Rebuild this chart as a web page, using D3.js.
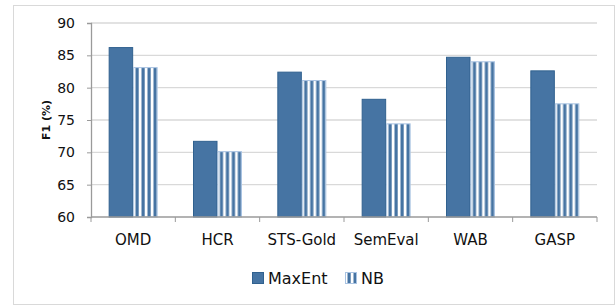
<!DOCTYPE html>
<html lang="en">
<head>
    <meta charset="UTF-8">
    <title>F1 by dataset</title>
    <style>
        body, html {
            margin: 0;
            background-color: #fff;
            font-family: "DejaVu Sans", sans-serif;
        }
    </style>
    <script src="https://d3js.org/d3.v7.min.js"></script>
</head>
<body>
    <div id="chart"></div>
    <script>
        const datasets = ["OMD", "HCR", "STS-Gold", "SemEval", "WAB", "GASP"];
        const seriesNames = ["MaxEnt", "NB"];
        const maxEnt = [86.2, 71.7, 82.4, 78.2, 84.7, 82.6];
        const nb = [83.1, 70.1, 81.1, 74.4, 84.0, 77.5];
        const yTicks = [60, 65, 70, 75, 80, 85, 90];

        const width = 616, height = 307;
        const plot = { left: 91, right: 597, top: 23, bottom: 217 };

        const svg = d3.select("#chart").append("svg")
            .attr("width", width)
            .attr("height", height);

        // stripes for NB
        const defs = svg.append("defs");
        const pat = defs.append("pattern")
            .attr("id", "stripes")
            .attr("patternUnits", "userSpaceOnUse")
            .attr("width", 6)
            .attr("height", 10);
        pat.append("rect").attr("width", 6).attr("height", 10).attr("fill", "#fff");
        pat.append("rect").attr("x", 2.5).attr("width", 3.2).attr("height", 10).attr("fill", "#4674a3");

        // outer frame
        svg.append("rect")
            .attr("x", 13.5).attr("y", 5.5)
            .attr("width", 601).attr("height", 299)
            .attr("fill", "#fff")
            .attr("stroke", "#d9d9d9");

        const x = d3.scaleBand().domain(datasets).range([plot.left, plot.right]);
        const x1 = d3.scaleBand().domain(seriesNames).range([x.bandwidth() / 2 - 24.5, x.bandwidth() / 2 + 24.5]);
        const y = d3.scaleLinear().domain([60, 90]).range([plot.bottom, plot.top]);

        // gridlines
        svg.append("g")
            .selectAll("line")
            .data(yTicks.slice(1))
            .enter().append("line")
            .attr("x1", plot.left).attr("x2", plot.right)
            .attr("y1", d => y(d)).attr("y2", d => y(d))
            .attr("stroke", "#d9d9d9")
            .attr("stroke-width", 1.3);

        // y axis
        const yAxis = svg.append("g")
            .attr("transform", `translate(${plot.left},0)`)
            .call(d3.axisLeft(y).tickValues(yTicks).tickSize(4).tickPadding(12));
        yAxis.select(".domain").attr("stroke", "#9a9a9a").attr("stroke-width", 1.3);
        yAxis.selectAll(".tick line").attr("stroke", "#9a9a9a");
        yAxis.selectAll("text").attr("font-size", 14).attr("fill", "#111")
            .attr("font-family", "DejaVu Sans");

        const rows = datasets.map((d, i) => ({ name: d, values: [maxEnt[i], nb[i]] }));

        const groups = svg.append("g")
            .selectAll("g")
            .data(rows)
            .enter().append("g")
            .attr("transform", d => `translate(${x(d.name)},0)`);

        groups.selectAll("rect")
            .data(d => d.values.map((v, j) => ({ key: seriesNames[j], value: v })))
            .enter().append("rect")
            .attr("x", d => x1(d.key) + 0.5)
            .attr("y", d => y(d.value))
            .attr("width", x1.bandwidth() - 1)
            .attr("height", d => y(60) - y(d.value))
            .attr("fill", d => d.key === "MaxEnt" ? "#4674a3" : "url(#stripes)")
            .attr("stroke", d => d.key === "MaxEnt" ? "#30618f" : "#a9c3e2")
            .attr("stroke-width", 1);

        // x axis
        const xAxis = svg.append("g")
            .attr("transform", `translate(0,${plot.bottom})`);
        xAxis.append("line")
            .attr("x1", plot.left).attr("x2", plot.right)
            .attr("stroke", "#9a9a9a").attr("stroke-width", 1.3);
        xAxis.selectAll(".tk")
            .data(d3.range(datasets.length + 1))
            .enter().append("line")
            .attr("x1", i => plot.left + i * x.step())
            .attr("x2", i => plot.left + i * x.step())
            .attr("y1", 0).attr("y2", 5)
            .attr("stroke", "#9a9a9a");
        xAxis.selectAll("text")
            .data(datasets)
            .enter().append("text")
            .attr("x", d => x(d) + x.bandwidth() / 2)
            .attr("y", 28)
            .attr("text-anchor", "middle")
            .attr("font-size", 15)
            .attr("fill", "#111")
            .text(d => d);

        // y title
        svg.append("text")
            .attr("transform", "translate(50,120) rotate(-90)")
            .attr("text-anchor", "middle")
            .attr("font-size", 11)
            .attr("font-weight", "bold")
            .attr("fill", "#111")
            .text("F1 (%)");

        // legend
        const legend = svg.append("g").attr("transform", "translate(252,272)");
        const items = [
            { name: "MaxEnt", x: 0, fill: "#4674a3", stroke: "#30618f" },
            { name: "NB", x: 93, fill: "url(#stripes)", stroke: "#a9c3e2" }
        ];
        const li = legend.selectAll("g").data(items).enter().append("g")
            .attr("transform", d => `translate(${d.x},0)`);
        li.append("rect")
            .attr("x", 0.5).attr("y", 0.5)
            .attr("width", 11).attr("height", 11)
            .attr("fill", d => d.fill)
            .attr("stroke", d => d.stroke);
        li.append("text")
            .attr("x", 16).attr("y", 11.5)
            .attr("font-size", 16)
            .attr("fill", "#111")
            .text(d => d.name);
    </script>
</body>
</html>
